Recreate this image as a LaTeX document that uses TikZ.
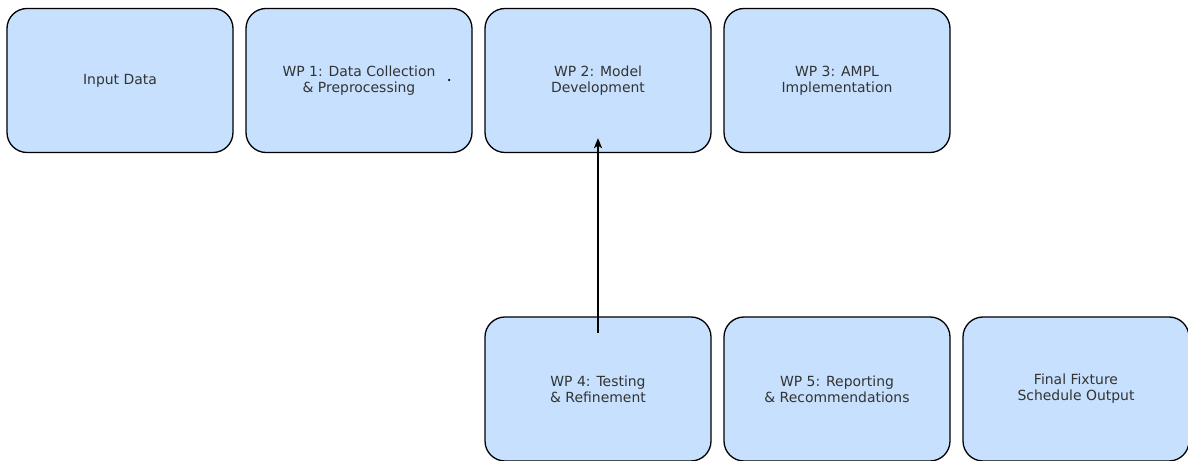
\documentclass[tikz,border=0pt]{standalone}
\usepackage{fontspec}
\setmainfont{DejaVu Sans}
\usetikzlibrary{arrows.meta}
\definecolor{boxfill}{RGB}{198,224,253}
\definecolor{boxtext}{RGB}{51,51,51}

\begin{document}
\begin{tikzpicture}[x=1bp, y=-1bp,
    wp/.style={draw, rounded corners=20bp, line width=1.3bp, fill=boxfill, text=boxtext,
      minimum width=226bp, minimum height=144bp, align=center,
      font=\fontsize{14}{16}\selectfont}]
    \useasboundingbox (0,0) rectangle (1188,461);
    \draw 
    (120,80.5)node(input)[wp]{Input Data}
    (359,80.5)node(wp1)[wp]{WP 1: Data Collection\\ \& Preprocessing}
    (598,80.5)node(wp2)[wp]{WP 2: Model\\Development}
    (837,80.5)node(wp3)[wp]{WP 3: AMPL\\Implementation}
    (598,389)node(wp4)[wp]{WP 4: Testing\\ \& Refinement}
    (837,389)node(wp5)[wp]{WP 5: Reporting\\ \& Recommendations}
    (1076,389)node(output)[wp]{Final Fixture\\Schedule Output}
    (449,80)node(dot)[circle, fill=black, inner sep=0pt, minimum size=2.5bp]{};
    %
    \draw[-{Stealth[length=10bp, width=8bp, inset=2.5bp]}, line width=1.8bp] ([yshift=-17bp]wp4.north) -- ([yshift=15bp]wp2.south);
\end{tikzpicture}
\end{document}
